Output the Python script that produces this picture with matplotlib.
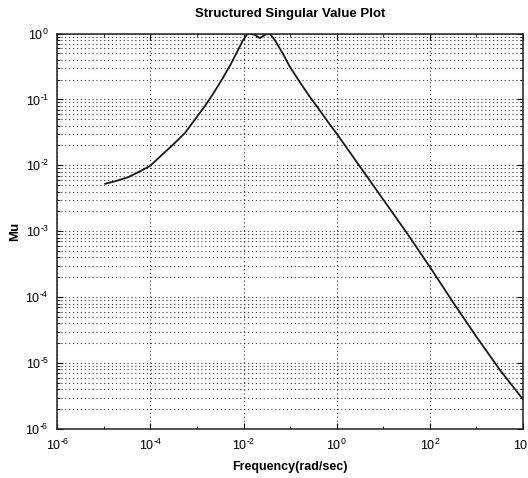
import matplotlib
matplotlib.use("Agg")
import matplotlib.pyplot as plt
from matplotlib.ticker import LogLocator, FuncFormatter, NullFormatter
import numpy as np

plt.rcParams['font.family'] = ['Liberation Sans', 'DejaVu Sans']
plt.rcParams['mathtext.fontset'] = 'custom'
plt.rcParams['mathtext.rm'] = 'Liberation Sans:bold'
plt.rcParams['mathtext.bf'] = 'Liberation Sans:bold'
plt.rcParams['axes.unicode_minus'] = False

# Data (frequency in rad/sec, mu)
freq = [1.07e-5, 1.78e-5, 3.31e-5, 5.62e-5, 9.77e-5, 1.78e-4, 3.02e-4, 5.50e-4,
        8.91e-4, 1.48e-3, 2.19e-3,
        3.55e-3, 5.37e-3, 7.24e-3, 9.77e-3, 1.23e-2, 1.74e-2, 2.24e-2, 2.88e-2,
        3.63e-2, 4.68e-2, 6.92e-2, 9.77e-2, 0.162, 0.263, 0.437, 0.646,
        1.0, 3.16, 10.0, 31.6, 100.0, 316.0, 1000.0, 3162.0, 1.0e4]
mu = [5.25e-3, 5.75e-3, 6.61e-3, 7.94e-3, 9.77e-3, 1.45e-2, 2.04e-2, 3.09e-2,
      4.90e-2, 7.94e-2, 0.120,
      0.209, 0.347, 0.525, 0.794, 1.0, 0.955, 0.851, 0.955,
      1.0, 0.794, 0.501, 0.316, 0.182, 0.110, 6.76e-2, 4.57e-2,
      3.02e-2, 9.55e-3, 3.02e-3, 9.55e-4, 2.88e-4, 8.32e-5, 2.51e-5, 7.94e-6, 2.82e-6]

title = "Structured Singular Value Plot"
xlabel = "Frequency(rad/sec)"
ylabel = "Mu"

fig = plt.figure(figsize=(5.28, 4.78), dpi=100)
ax = fig.add_axes([57.3/528, 49/478, (523-57.3)/528, (429-33.5)/478])

ax.loglog(freq, mu, color='#1a1a1a', lw=1.3)
ax.set_xlim(1e-6, 1e4)
ax.set_ylim(1e-6, 1e0)


def fmt(v, pos):
    e = int(round(np.log10(v)))
    if e < 0:
        return r'$\mathregular{10^{\text{-}%d}}$' % (-e)
    return r'$\mathregular{10^{%d}}$' % e


ax.xaxis.set_major_locator(LogLocator(base=100.0, numticks=20))
ax.xaxis.set_minor_locator(LogLocator(base=10.0, subs=(1.0,), numticks=20))
ax.xaxis.set_major_formatter(FuncFormatter(fmt))
ax.xaxis.set_minor_formatter(NullFormatter())
ax.yaxis.set_major_locator(LogLocator(base=10.0, numticks=20))
ax.yaxis.set_minor_locator(LogLocator(base=10.0, subs=tuple(range(2, 10)), numticks=20))
ax.yaxis.set_major_formatter(FuncFormatter(fmt))
ax.yaxis.set_minor_formatter(NullFormatter())

ax.xaxis.grid(True, which='major', linestyle=(0, (1, 2.5)), color='#333333', lw=0.8)
ax.yaxis.grid(True, which='both', linestyle=(0, (1, 2.5)), color='#333333', lw=0.8)

ax.tick_params(which='both', direction='in', top=True, right=True, labelsize=9, pad=6)
ax.tick_params(which='major', length=4)
ax.tick_params(which='minor', length=2.5)
for s in ax.spines.values():
    s.set_linewidth(1.1)
    s.set_color('#222222')

ax.set_title(title, fontsize=9.5, fontweight='bold', pad=12)
ax.set_xlabel(xlabel, fontsize=9, fontweight='bold', labelpad=6)
ax.set_ylabel(ylabel, fontsize=9.5, fontweight='bold')
ax.yaxis.set_label_coords(-0.078, 0.5)

fig.savefig("out.png", dpi=100)
